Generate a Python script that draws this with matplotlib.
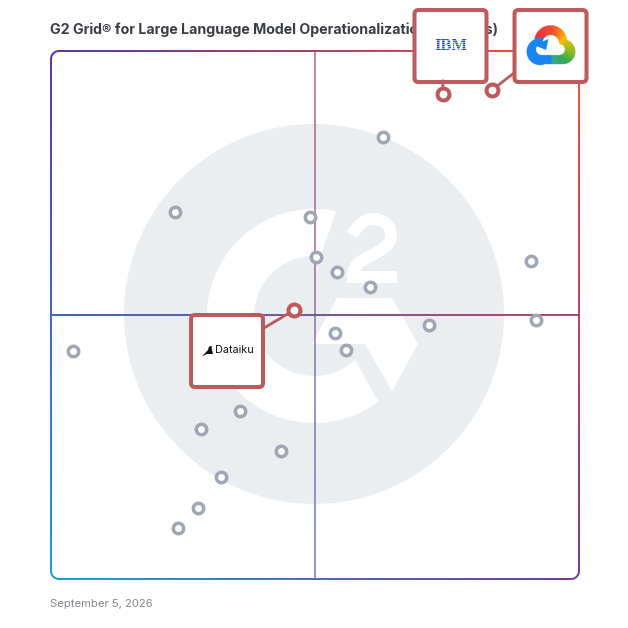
import numpy as np
import matplotlib
matplotlib.use("Agg")
import matplotlib.pyplot as plt
from matplotlib.patches import Circle, FancyBboxPatch, PathPatch, Polygon
from matplotlib.path import Path
from matplotlib.transforms import Affine2D

TITLE = "G2 Grid® for Large Language Model Operationalization (LLMOps)"
DATE = "September 5, 2026"

# scores (0-100 on both axes of the grid)
other_x = [62.8, 23.4, 49.1, 50.1, 54.1, 60.4, 91.0, 91.9, 71.5, 53.7, 55.8, 4.1, 35.8, 28.5, 43.5, 32.2, 27.9, 24.0]
other_y = [83.8, 69.6, 68.6, 61.0, 58.1, 55.3, 60.3, 49.0, 48.2, 46.6, 43.4, 43.1, 31.9, 28.5, 24.3, 19.4, 13.5, 9.6]
vendors = ["IBM", "Google Cloud", "Dataiku"]
vendor_x = [74.2, 83.5, 46.0]
vendor_y = [91.9, 92.6, 50.9]

# grid position on the canvas, in pixels
L, R, T, B = 51, 579, 51, 579
SCALE = (R - L) / 100
CARD = "#bd5a5c"
GRAY = "#9fa6b4"
WASH = "#ebeef1"

fig = plt.figure(figsize=(6.28, 6.28), dpi=100)
ax = fig.add_axes([0, 0, 1, 1])
ax.axis("off")

# decorations are placed in canvas pixels, y going down
px = Affine2D().scale(1, -1).translate(0, 628)


def to_px(x, y):
    return L + x * SCALE, B - y * SCALE


def arc(cx, cy, r, a0, a1, n=60):
    a = np.radians(np.linspace(a0, a1, n))
    return np.column_stack([cx + r * np.cos(a), cy - r * np.sin(a)])


def rounded_rect(x0, y0, x1, y1, r, reverse=False):
    pts = np.vstack([
        arc(x1 - r, y0 + r, r, 90, 0, 10),
        arc(x1 - r, y1 - r, r, 0, -90, 10),
        arc(x0 + r, y1 - r, r, -90, -180, 10),
        arc(x0 + r, y0 + r, r, 180, 90, 10),
    ])
    if reverse:
        pts = pts[::-1]
    return Path(np.vstack([pts, pts[:1]]), closed=True)


def rect(x0, y0, x1, y1):
    return Path([(x0, y0), (x1, y0), (x1, y1), (x0, y1), (x0, y0)], closed=True)


def cloud_logo():
    # Google Cloud mark as an RGBA raster, 6 samples per pixel
    xs = np.linspace(524, 578, 324)
    ys = np.linspace(23, 67, 264)
    x, y = np.meshgrid(xs, ys)

    def disc(cx, cy, r):
        return (x - cx) ** 2 + (y - cy) ** 2 <= r ** 2

    outer = (disc(540, 51.7, 13.5) | disc(550.7, 41.7, 16.5) | disc(563, 51.7, 12.5)
             | ((x > 540) & (x < 563) & (y > 45) & (y < 64.2)))
    hole = (disc(541.5, 49.5, 5.5) | disc(550.7, 43.5, 8.5) | disc(559.3, 49.5, 5.5)
            | ((x > 541.5) & (x < 559.3) & (y > 47) & (y < 55)))
    hook = Path([(548.5, 39), (546, 50), (534, 45)]).contains_points(
        np.column_stack([x.ravel(), y.ravel()])).reshape(x.shape)
    mask = outer & (~hole | hook)

    angle = np.degrees(np.arctan2(48 - y, x - 553))
    stops = [-180, -110, -88, -45, -5, 40, 90, 180]
    red = [0x1a, 0x1a, 0x34, 0x34, 0x9a, 0xfb, 0xf0, 0xea]
    green = [0x86, 0x86, 0xa8, 0xa8, 0xc0, 0xbc, 0x50, 0x20]
    blue = [0xf0, 0xf0, 0x90, 0x53, 0x20, 0x04, 0x30, 0x40]
    rgb = np.dstack([np.interp(angle, stops, c) for c in (red, green, blue)]) / 255
    left_part = ((x < 549) & (y > 38)) | ((x < 551) & (y > 55))
    rgb[left_part] = np.array([0x1a, 0x86, 0xf0]) / 255
    return np.dstack([rgb, mask.astype(float)]), (xs[0], xs[-1], ys[-1], ys[0])


# G2 watermark
ax.add_patch(Circle((314, 314), 190, fc=WASH, ec="none", transform=px, zorder=1))
ring = np.vstack([arc(314, 316, 107, 78, 307, 120), arc(314, 316, 60, 313, 84, 120)])
ax.add_patch(Polygon(ring, fc="white", ec="none", transform=px, zorder=2))
chevron = [(337, 298), (392, 298), (418, 344), (392, 391), (365, 344), (312, 344)]
ax.add_patch(Polygon(chevron, fc="white", ec="none", transform=px, zorder=2))
two = Path(
    [(352, 235), (358, 225), (364, 219), (373, 219), (384, 219), (391, 226), (391, 235),
     (391, 250), (372, 253), (360, 262), (355, 266), (353, 271), (353, 277), (397, 277)],
    [Path.MOVETO] + [Path.CURVE4] * 12 + [Path.LINETO],
)
ax.add_patch(PathPatch(two, fc="none", ec="white", lw=8.6, capstyle="butt", joinstyle="miter",
                       transform=px, zorder=2))

# border and cross share one corner-to-corner colour blend
corners = np.array([[[0x5b, 0x36, 0xa8], [0xff, 0x50, 0x30]],
                    [[0x1e, 0x9f, 0xd8], [0x7a, 0x3a, 0x9a]]]) / 255
u, v = np.meshgrid(np.linspace(0, 1, 300), np.linspace(0, 1, 300))
u, v = u[..., None], v[..., None]
blend = (corners[0, 0] * (1 - u) * (1 - v) + corners[0, 1] * u * (1 - v)
         + corners[1, 0] * (1 - u) * v + corners[1, 1] * u * v)
mx, my = to_px(50, 50)
extent = (L - 2, R + 2, B + 2, T - 2)
im = ax.imshow(blend, extent=extent, origin="upper", aspect="auto",
               transform=px, interpolation="bilinear", zorder=3)
im.set_clip_path(Path.make_compound_path(
    rounded_rect(L - 1, T - 1, R + 1, B + 1, 9),
    rounded_rect(L + 1, T + 1, R - 1, B - 1, 7, reverse=True),
    rect(L, my - 1, R, my + 1),
), transform=px)
# the vertical line is paler than the horizontal one
im2 = ax.imshow(blend, extent=extent, origin="upper", aspect="auto", alpha=0.65,
                transform=px, interpolation="bilinear", zorder=3)
im2.set_clip_path(rect(mx - 1, T, mx + 1, B), transform=px)

ax.text(L - 0.5, 29.5, TITLE, transform=px, family="Inter", weight="bold", fontsize=10.25,
        color="#3a3d42", va="center", ha="left", zorder=4)
ax.text(L - 1, 604, DATE, transform=px, family="Inter", fontsize=8.1,
        color="#84888d", va="center", ha="left", zorder=4)

ax.plot(other_x, other_y, ls="none", marker="o", ms=7.5, mfc="white", mec=GRAY, mew=2.5, zorder=5)

# vendor cards: left, top of the card and where its leader line leaves it
cards = {"IBM": (414.5, 10, 443, 81), "Google Cloud": (514.5, 10, 514, 73), "Dataiku": (191, 315, 264, 328)}
for name, px_x, px_y in zip(vendors, *to_px(np.array(vendor_x), np.array(vendor_y))):
    left, top, ex, ey = cards[name]
    ax.add_patch(FancyBboxPatch((left + 4, top + 4), 64, 64, boxstyle="round,pad=4,rounding_size=4",
                                fc="white", ec=CARD, lw=2.9, transform=px, zorder=6))
    ax.plot([px_x, ex], [px_y, ey], color=CARD, lw=2, transform=px, zorder=7)
ax.plot(vendor_x, vendor_y, ls="none", marker="o", ms=8.6, mfc="white", mec=CARD, mew=2.9, zorder=8)

# IBM logo
ax.text(451, 46, "IBM", transform=px, family="Liberation Serif", weight="bold", fontsize=12,
        color="#1f4fa8", va="center", ha="center", zorder=9)
for yy in np.arange(39.5, 53, 2):
    ax.plot([434, 468], [yy, yy], color="white", lw=0.4, transform=px, zorder=10)

# Google Cloud logo
logo, logo_extent = cloud_logo()
ax.imshow(logo, extent=logo_extent, origin="upper", aspect="auto", transform=px,
          interpolation="antialiased", zorder=9)

# Dataiku logo
bird = [(202, 356.5), (208, 350), (209, 346.5), (212, 346), (211.5, 348), (213, 354), (207, 354), (203, 356)]
ax.add_patch(Polygon(bird, fc="#111111", ec="none", transform=px, zorder=9))
ax.text(215, 350, "Dataiku", transform=px, family="Inter", fontsize=7.8, color="#111111",
        va="center", ha="left", zorder=9)

# score axes mapped over the whole canvas
ax.set_xlim(-L / SCALE, (628 - L) / SCALE)
ax.set_ylim((B - 628) / SCALE, B / SCALE)

fig.savefig("out.png", dpi=100)
